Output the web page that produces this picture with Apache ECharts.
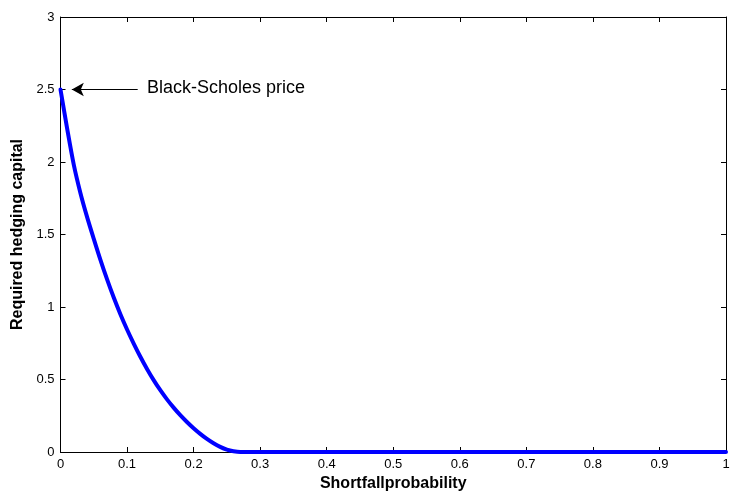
<!DOCTYPE html>
<html>
<head>
<meta charset="utf-8">
<script src="https://cdn.jsdelivr.net/npm/echarts@6/dist/echarts.min.js"></script>
<style>
  html, body { margin: 0; padding: 0; background: #fff; }
  #main { width: 733px; height: 497px; }
</style>
</head>
<body>
<div id="main"></div>
<script>
// shortfall probability vs required hedging capital
var probability = [0, 0.01, 0.02, 0.03, 0.04, 0.05, 0.06, 0.07, 0.08, 0.09, 0.10,
                   0.11, 0.12, 0.13, 0.14, 0.15, 0.16, 0.17, 0.18, 0.19, 0.20,
                   0.21, 0.22, 0.23, 0.24, 0.25, 0.26, 0.27, 1.0];
var capital = [2.5, 2.23, 1.98, 1.785, 1.62, 1.47, 1.325, 1.19, 1.065, 0.95, 0.845,
               0.748, 0.657, 0.573, 0.496, 0.426, 0.363, 0.306, 0.254, 0.207, 0.164,
               0.125, 0.09, 0.06, 0.035, 0.016, 0.005, 0, 0];
var arrowFrom = [0.116, 2.5];
var arrowTo = [0.017, 2.5];
var annotation = 'Black-Scholes price';

var myChart = echarts.init(document.getElementById('main'));

var points = probability.map(function (p, i) { return [p, capital[i]]; });

function ticks() {
    return {show: true, inside: true, length: 5, lineStyle: {color: '#000', width: 1}};
}
function axisLine() {
    return {show: true, onZero: false, lineStyle: {color: '#000', width: 1}};
}
function labels() {
    return {margin: 6, color: '#000', fontFamily: 'Arial, Liberation Sans', fontSize: 13};
}
var nameFont = {color: '#000', fontFamily: 'Arial, Liberation Sans', fontSize: 16, fontWeight: 'bold'};

var option = {
    animation: false,
    grid: {left: 60.5, right: 7, top: 17, bottom: 45},
    xAxis: [
        {
            type: 'value', min: 0, max: 1, interval: 0.1, position: 'bottom',
            name: 'Shortfallprobability', nameLocation: 'middle', nameGap: 22,
            nameTextStyle: nameFont,
            axisLine: axisLine(), axisTick: ticks(), axisLabel: labels(),
            splitLine: {show: false}
        },
        {
            type: 'value', min: 0, max: 1, interval: 0.1, position: 'top',
            axisLine: axisLine(), axisTick: ticks(),
            axisLabel: {show: false}, splitLine: {show: false}
        }
    ],
    yAxis: [
        {
            type: 'value', min: 0, max: 3, interval: 0.5, position: 'left',
            name: 'Required hedging capital', nameLocation: 'middle', nameGap: 26,
            nameTextStyle: nameFont,
            axisLine: axisLine(), axisTick: ticks(), axisLabel: labels(),
            splitLine: {show: false}
        },
        {
            type: 'value', min: 0, max: 3, interval: 0.5, position: 'right',
            axisLine: axisLine(), axisTick: ticks(),
            axisLabel: {show: false}, splitLine: {show: false}
        }
    ],
    series: [
        {
            type: 'line',
            data: points,
            showSymbol: false,
            smooth: 0.3,
            lineStyle: {color: '#0000ff', width: 4, join: 'round', cap: 'round'},
            markLine: {
                silent: true,
                symbol: ['none', 'arrow'],
                symbolSize: [10, 12],
                lineStyle: {color: '#000', width: 1, type: 'solid'},
                label: {show: false},
                data: [[{coord: arrowFrom}, {coord: arrowTo}]]
            }
        }
    ],
    graphic: [
        {
            type: 'text', left: 147, top: 79,
            style: {text: annotation, fill: '#000', font: '18px Arial, Liberation Sans'}
        }
    ]
};

myChart.setOption(option);
</script>
</body>
</html>
